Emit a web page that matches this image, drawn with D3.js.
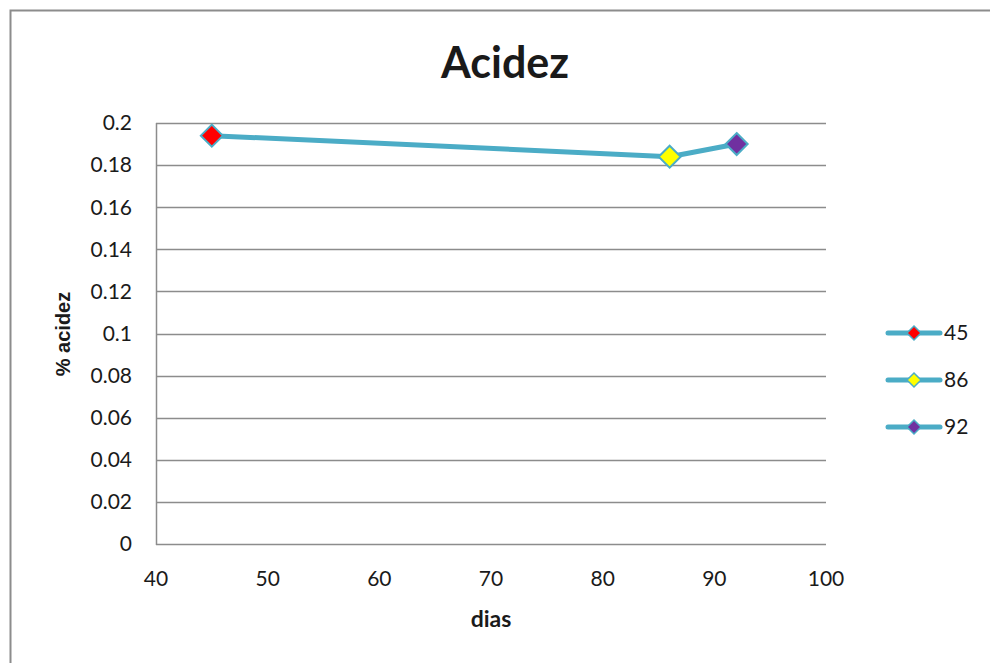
<!DOCTYPE html>
<html>
<head>
<meta charset="utf-8">
<script src="https://cdn.jsdelivr.net/npm/d3@7"></script>
<style>
  html, body { margin: 0; padding: 0; background: #fff; }
  svg { display: block; }
</style>
</head>
<body>
<svg id="chart" width="990" height="663"></svg>
<script>
// Acidity measurements by day
const dias = [45, 86, 92];
const acidez = [0.194, 0.184, 0.190];
const markerColors = ["#ff0000", "#ffff00", "#7030a0"];
const seriesNames = ["45", "86", "92"];
const yTicks = [0, 0.02, 0.04, 0.06, 0.08, 0.1, 0.12, 0.14, 0.16, 0.18, 0.2];
const xTicks = [40, 50, 60, 70, 80, 90, 100];

const svg = d3.select("#chart");
const font = "Lato, 'Open Sans', sans-serif";
const lineColor = "#4bacc6";
const markerStroke = "#4bacc6";

// Chart frame
svg.append("rect")
  .attr("x", 10.5).attr("y", 10.5)
  .attr("width", 1100).attr("height", 1100)
  .attr("fill", "#fff").attr("stroke", "#8c8c8c").attr("stroke-width", 2);

const plot = { left: 156, right: 826, top: 123, bottom: 544 };

const x = d3.scaleLinear().domain([40, 100]).range([plot.left, plot.right]);
const y = d3.scaleLinear().domain([0, 0.2]).range([plot.bottom, plot.top]);

// Horizontal gridlines
svg.append("g")
  .selectAll("line")
  .data(yTicks)
  .join("line")
  .attr("x1", plot.left).attr("x2", plot.right)
  .attr("y1", d => Math.round(y(d)) + 0.5).attr("y2", d => Math.round(y(d)) + 0.5)
  .attr("stroke", "#8c8c8c").attr("stroke-width", 1.5);

// Left axis line
svg.append("line")
  .attr("x1", plot.left + 0.5).attr("x2", plot.left + 0.5)
  .attr("y1", plot.top).attr("y2", plot.bottom + 1)
  .attr("stroke", "#8c8c8c").attr("stroke-width", 1.5);

// Y tick labels
svg.append("g")
  .selectAll("text")
  .data(yTicks)
  .join("text")
  .attr("x", plot.left - 24)
  .attr("y", d => y(d))
  .attr("dy", "0.35em")
  .attr("text-anchor", "end")
  .attr("font-family", font).attr("font-size", 21).attr("fill", "#1a1a1a")
  .text(d => d3.format("~g")(d));

// X tick labels
svg.append("g")
  .selectAll("text")
  .data(xTicks)
  .join("text")
  .attr("x", d => x(d))
  .attr("y", plot.bottom + 42)
  .attr("text-anchor", "middle")
  .attr("font-family", font).attr("font-size", 21).attr("fill", "#1a1a1a")
  .text(d => d);

// Title
svg.append("text")
  .attr("x", 505).attr("y", 78)
  .attr("text-anchor", "middle")
  .attr("font-family", font).attr("font-weight", "bold").attr("font-size", 43)
  .attr("fill", "#1a1a1a")
  .text("Acidez");

// Axis titles
svg.append("text")
  .attr("x", 491).attr("y", 627)
  .attr("text-anchor", "middle")
  .attr("font-family", font).attr("font-weight", "bold").attr("font-size", 23)
  .attr("fill", "#1a1a1a")
  .text("dias");

svg.append("text")
  .attr("transform", "translate(70,334) rotate(-90)")
  .attr("text-anchor", "middle")
  .attr("font-family", "'Liberation Sans', Arial, sans-serif").attr("font-weight", "bold").attr("font-size", 20)
  .attr("fill", "#1a1a1a")
  .text("% acidez");

// Data line
const pts = dias.map((d, i) => ({ x: d, y: acidez[i], color: markerColors[i] }));
svg.append("path")
  .datum(pts)
  .attr("fill", "none")
  .attr("stroke", lineColor).attr("stroke-width", 5)
  .attr("stroke-linejoin", "round")
  .attr("d", d3.line().x(d => x(d.x)).y(d => y(d.y)));

// Diamond markers
const diamond = (cx, cy, r) => `M${cx},${cy - r}L${cx + r},${cy}L${cx},${cy + r}L${cx - r},${cy}Z`;
svg.append("g")
  .selectAll("path")
  .data(pts)
  .join("path")
  .attr("d", d => diamond(x(d.x), y(d.y), 11))
  .attr("fill", d => d.color)
  .attr("stroke", markerStroke).attr("stroke-width", 2);

// Legend
const legend = svg.append("g");
const legendY = [333, 380, 427];
seriesNames.forEach((name, i) => {
  const g = legend.append("g");
  g.append("line")
    .attr("x1", 888).attr("x2", 940)
    .attr("y1", legendY[i]).attr("y2", legendY[i])
    .attr("stroke", lineColor).attr("stroke-width", 5).attr("stroke-linecap", "round");
  g.append("path")
    .attr("d", diamond(914, legendY[i], 7))
    .attr("fill", markerColors[i])
    .attr("stroke", markerStroke).attr("stroke-width", 1.5);
  g.append("text")
    .attr("x", 944).attr("y", legendY[i])
    .attr("dy", "0.35em")
    .attr("font-family", font).attr("font-size", 21).attr("fill", "#1a1a1a")
    .text(name);
});
</script>
</body>
</html>
